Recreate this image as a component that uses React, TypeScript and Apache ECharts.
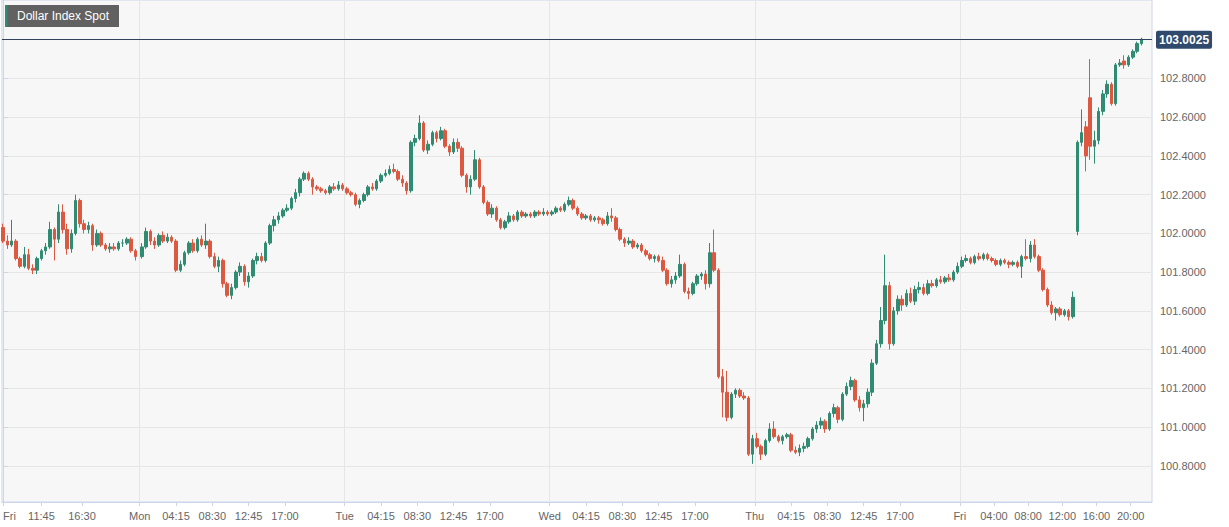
import React, { useEffect, useRef } from "react";
import * as echarts from "echarts";

// ---------- data ----------
const SERIES_NAME = "Dollar Index Spot";
const LAST_PRICE = 103.0025;

// position (in quarter-hours from Fri 07:15, weekend removed) of the first candle of each session
const candleStartQ = [0, 65, 161, 257, 353, 449];
// day boundaries (Mon, Tue, Wed, Thu, Fri 00:00)
const dayLineQ = [64, 160, 256, 352, 448];

const xTickQ = [0, 18, 37, 64, 81, 98, 115, 132, 160, 177, 194, 211, 228, 256, 273, 290, 307, 324, 352, 369, 386, 403, 420, 448, 464, 480, 496, 512, 528];
const xTickText = ["Fri", "11:45", "16:30", "Mon", "04:15", "08:30", "12:45", "17:00", "Tue", "04:15", "08:30", "12:45", "17:00", "Wed", "04:15", "08:30", "12:45", "17:00", "Thu", "04:15", "08:30", "12:45", "17:00", "Fri", "04:00", "08:00", "12:00", "16:00", "20:00"];
const yTicks = [100.8, 101.0, 101.2, 101.4, 101.6, 101.8, 102.0, 102.2, 102.4, 102.6, 102.8];

// 30-minute candles: [open, close, low, high]
const fri1 = [
  [102.03, 101.96, 101.95, 102.05], [101.96, 101.94, 101.92, 101.99], [101.94, 101.96, 101.93, 102.07], [101.96, 101.87, 101.86, 101.97],
  [101.87, 101.83, 101.82, 101.88], [101.83, 101.89, 101.82, 101.93], [101.89, 101.82, 101.81, 101.92], [101.82, 101.81, 101.79, 101.84],
  [101.81, 101.87, 101.79, 101.88], [101.87, 101.91, 101.86, 101.92], [101.91, 101.93, 101.89, 101.95], [101.93, 102.02, 101.92, 102.06],
  [102.02, 101.97, 101.86, 102.03], [101.97, 102.11, 101.95, 102.15], [102.11, 102.02, 102.0, 102.15], [102.02, 101.92, 101.89, 102.05],
  [101.92, 102.0, 101.9, 102.02], [102.0, 102.17, 101.99, 102.2], [102.17, 102.05, 102.03, 102.18], [102.05, 102.02, 102.0, 102.07],
  [102.02, 102.04, 102.0, 102.06], [102.04, 101.94, 101.91, 102.05], [101.94, 102.0, 101.93, 102.02], [102.0, 101.94, 101.93, 102.01],
  [101.94, 101.92, 101.91, 101.95], [101.92, 101.93, 101.9, 101.95], [101.93, 101.92, 101.91, 101.95], [101.92, 101.95, 101.91, 101.96],
  [101.95, 101.95, 101.93, 101.97], [101.95, 101.97, 101.94, 101.98], [101.97, 101.91, 101.9, 101.98], [101.91, 101.88, 101.86, 101.92],
];
const mon = [
  [101.88, 101.93, 101.87, 101.95], [101.93, 102.01, 101.92, 102.03], [102.01, 101.96, 101.94, 102.02], [101.96, 101.94, 101.92, 101.98],
  [101.94, 101.99, 101.93, 102.0], [101.99, 101.96, 101.95, 102.01], [101.96, 101.98, 101.95, 102.0], [101.98, 101.96, 101.95, 101.99],
  [101.96, 101.81, 101.8, 101.97], [101.81, 101.84, 101.8, 101.86], [101.84, 101.9, 101.83, 101.91], [101.9, 101.95, 101.89, 101.96],
  [101.95, 101.91, 101.9, 101.97], [101.91, 101.97, 101.9, 101.98], [101.97, 101.94, 101.93, 101.99], [101.94, 101.96, 101.92, 102.05],
  [101.96, 101.88, 101.87, 101.97], [101.88, 101.83, 101.82, 101.9], [101.83, 101.86, 101.8, 101.88], [101.86, 101.74, 101.72, 101.87],
  [101.74, 101.68, 101.67, 101.75], [101.68, 101.72, 101.66, 101.74], [101.72, 101.8, 101.71, 101.81], [101.8, 101.83, 101.78, 101.85],
  [101.83, 101.75, 101.73, 101.84], [101.75, 101.78, 101.72, 101.8], [101.78, 101.86, 101.77, 101.87], [101.86, 101.88, 101.84, 101.9],
  [101.88, 101.86, 101.85, 101.9], [101.86, 101.95, 101.85, 101.96], [101.95, 102.04, 101.94, 102.05], [102.04, 102.07, 102.01, 102.09],
  [102.07, 102.09, 102.05, 102.11], [102.09, 102.12, 102.08, 102.13], [102.12, 102.13, 102.11, 102.15], [102.13, 102.18, 102.12, 102.19],
  [102.18, 102.21, 102.16, 102.23], [102.21, 102.28, 102.19, 102.29], [102.28, 102.31, 102.27, 102.32], [102.31, 102.28, 102.27, 102.32],
  [102.28, 102.24, 102.2, 102.29], [102.24, 102.23, 102.22, 102.25], [102.23, 102.22, 102.21, 102.24], [102.22, 102.21, 102.2, 102.23],
  [102.21, 102.24, 102.2, 102.25], [102.24, 102.23, 102.22, 102.26], [102.23, 102.25, 102.22, 102.27], [102.25, 102.23, 102.22, 102.26],
];
const tue = [
  [102.23, 102.21, 102.2, 102.24], [102.21, 102.2, 102.19, 102.22], [102.2, 102.15, 102.14, 102.21], [102.15, 102.17, 102.13, 102.18],
  [102.17, 102.2, 102.16, 102.21], [102.2, 102.24, 102.19, 102.25], [102.24, 102.23, 102.22, 102.26], [102.23, 102.27, 102.22, 102.28],
  [102.27, 102.3, 102.26, 102.31], [102.3, 102.31, 102.29, 102.33], [102.31, 102.33, 102.3, 102.35], [102.33, 102.32, 102.31, 102.36],
  [102.32, 102.28, 102.27, 102.33], [102.28, 102.26, 102.24, 102.3], [102.26, 102.22, 102.2, 102.27], [102.22, 102.47, 102.21, 102.48],
  [102.47, 102.49, 102.45, 102.51], [102.49, 102.57, 102.48, 102.61], [102.57, 102.43, 102.42, 102.58], [102.43, 102.46, 102.41, 102.48],
  [102.46, 102.52, 102.45, 102.53], [102.52, 102.49, 102.47, 102.53], [102.49, 102.53, 102.48, 102.55], [102.53, 102.45, 102.44, 102.54],
  [102.45, 102.42, 102.4, 102.46], [102.42, 102.47, 102.41, 102.49], [102.47, 102.44, 102.42, 102.49], [102.44, 102.3, 102.29, 102.45],
  [102.3, 102.24, 102.21, 102.31], [102.24, 102.28, 102.2, 102.3], [102.28, 102.38, 102.27, 102.43], [102.38, 102.24, 102.23, 102.39],
  [102.24, 102.16, 102.15, 102.25], [102.16, 102.1, 102.09, 102.17], [102.1, 102.13, 102.08, 102.15], [102.13, 102.07, 102.06, 102.14],
  [102.07, 102.03, 102.02, 102.08], [102.03, 102.06, 102.02, 102.07], [102.06, 102.09, 102.05, 102.11], [102.09, 102.07, 102.06, 102.1],
  [102.07, 102.11, 102.06, 102.12], [102.11, 102.09, 102.08, 102.12], [102.09, 102.1, 102.08, 102.11], [102.1, 102.09, 102.08, 102.11],
  [102.09, 102.11, 102.08, 102.12], [102.11, 102.1, 102.09, 102.12], [102.1, 102.11, 102.09, 102.13], [102.11, 102.1, 102.09, 102.12],
];
const wed = [
  [102.1, 102.11, 102.09, 102.12], [102.11, 102.13, 102.1, 102.14], [102.13, 102.12, 102.11, 102.14], [102.12, 102.15, 102.11, 102.16],
  [102.15, 102.17, 102.14, 102.19], [102.17, 102.13, 102.12, 102.18], [102.13, 102.1, 102.09, 102.14], [102.1, 102.08, 102.07, 102.11],
  [102.08, 102.09, 102.07, 102.1], [102.09, 102.07, 102.06, 102.1], [102.07, 102.08, 102.06, 102.09], [102.08, 102.07, 102.05, 102.09],
  [102.07, 102.05, 102.04, 102.08], [102.05, 102.09, 102.04, 102.11], [102.09, 102.08, 102.06, 102.13], [102.08, 102.02, 102.01, 102.09],
  [102.02, 101.97, 101.96, 102.03], [101.97, 101.95, 101.93, 101.98], [101.95, 101.96, 101.94, 101.98], [101.96, 101.93, 101.92, 101.97],
  [101.93, 101.94, 101.92, 101.95], [101.94, 101.91, 101.9, 101.95], [101.91, 101.89, 101.88, 101.92], [101.89, 101.87, 101.86, 101.9],
  [101.87, 101.88, 101.85, 101.89], [101.88, 101.86, 101.85, 101.89], [101.86, 101.81, 101.8, 101.88], [101.81, 101.74, 101.73, 101.82],
  [101.74, 101.76, 101.72, 101.78], [101.76, 101.78, 101.74, 101.8], [101.78, 101.84, 101.77, 101.89], [101.84, 101.7, 101.69, 101.85],
  [101.7, 101.69, 101.66, 101.72], [101.69, 101.74, 101.68, 101.75], [101.74, 101.78, 101.73, 101.79], [101.78, 101.79, 101.76, 101.8],
  [101.79, 101.74, 101.71, 101.81], [101.74, 101.9, 101.72, 101.95], [101.9, 101.81, 101.8, 102.02], [101.81, 101.26, 101.25, 101.82],
  [101.26, 101.18, 101.05, 101.3], [101.18, 101.05, 101.03, 101.29], [101.05, 101.17, 101.04, 101.18], [101.17, 101.19, 101.15, 101.2],
  [101.19, 101.16, 101.15, 101.2], [101.16, 101.15, 101.14, 101.18], [101.15, 100.86, 100.85, 101.16], [100.86, 100.94, 100.81, 100.96],
];
const thu = [
  [100.94, 100.9, 100.89, 100.97], [100.9, 100.86, 100.83, 100.91], [100.86, 100.93, 100.85, 100.94], [100.93, 100.99, 100.92, 101.02],
  [100.99, 100.95, 100.94, 101.03], [100.95, 100.93, 100.92, 100.96], [100.93, 100.95, 100.91, 100.96], [100.95, 100.96, 100.94, 100.97],
  [100.96, 100.88, 100.87, 100.97], [100.88, 100.87, 100.86, 100.9], [100.87, 100.89, 100.85, 100.91], [100.89, 100.9, 100.87, 100.92],
  [100.9, 100.94, 100.89, 100.95], [100.94, 100.99, 100.93, 101.0], [100.99, 101.01, 100.97, 101.03], [101.01, 101.03, 100.99, 101.05],
  [101.03, 100.99, 100.97, 101.04], [100.99, 101.07, 100.98, 101.08], [101.07, 101.1, 101.05, 101.12], [101.1, 101.04, 101.02, 101.11],
  [101.04, 101.17, 101.03, 101.18], [101.17, 101.21, 101.16, 101.23], [101.21, 101.24, 101.19, 101.26], [101.24, 101.14, 101.13, 101.25],
  [101.14, 101.1, 101.08, 101.16], [101.1, 101.12, 101.03, 101.14], [101.12, 101.18, 101.1, 101.2], [101.18, 101.33, 101.16, 101.35],
  [101.33, 101.43, 101.32, 101.45], [101.43, 101.55, 101.41, 101.62], [101.55, 101.73, 101.53, 101.89], [101.73, 101.43, 101.4, 101.75],
  [101.43, 101.6, 101.42, 101.62], [101.6, 101.66, 101.58, 101.68], [101.66, 101.63, 101.6, 101.68], [101.63, 101.69, 101.62, 101.71],
  [101.69, 101.65, 101.64, 101.72], [101.65, 101.71, 101.63, 101.73], [101.71, 101.72, 101.69, 101.75], [101.72, 101.69, 101.68, 101.74],
  [101.69, 101.74, 101.68, 101.76], [101.74, 101.73, 101.72, 101.76], [101.73, 101.76, 101.72, 101.77], [101.76, 101.75, 101.74, 101.78],
  [101.75, 101.77, 101.74, 101.78], [101.77, 101.76, 101.75, 101.79], [101.76, 101.8, 101.75, 101.81], [101.8, 101.83, 101.79, 101.85],
];
const fri2 = [
  [101.83, 101.86, 101.82, 101.88], [101.86, 101.87, 101.85, 101.89], [101.87, 101.85, 101.84, 101.88], [101.85, 101.88, 101.84, 101.89],
  [101.88, 101.87, 101.86, 101.9], [101.87, 101.89, 101.86, 101.9], [101.89, 101.87, 101.86, 101.9], [101.87, 101.86, 101.85, 101.88],
  [101.86, 101.84, 101.83, 101.87], [101.84, 101.86, 101.83, 101.87], [101.86, 101.85, 101.84, 101.87], [101.85, 101.84, 101.82, 101.86],
  [101.84, 101.85, 101.83, 101.86], [101.85, 101.83, 101.82, 101.86], [101.83, 101.88, 101.77, 101.89], [101.88, 101.87, 101.86, 101.97],
  [101.87, 101.94, 101.85, 101.96], [101.94, 101.88, 101.87, 101.97], [101.88, 101.81, 101.8, 101.89], [101.81, 101.71, 101.7, 101.82],
  [101.71, 101.63, 101.62, 101.72], [101.63, 101.59, 101.58, 101.65], [101.59, 101.61, 101.55, 101.62], [101.61, 101.58, 101.57, 101.62],
  [101.58, 101.6, 101.57, 101.61], [101.6, 101.57, 101.55, 101.61], [101.57, 101.67, 101.56, 101.7], [102.01, 102.47, 101.99, 102.48],
  [102.47, 102.52, 102.45, 102.64], [102.55, 102.4, 102.32, 102.58], [102.7, 102.45, 102.38, 102.9], [102.45, 102.48, 102.36, 102.53],
  [102.48, 102.63, 102.46, 102.65], [102.63, 102.72, 102.61, 102.74], [102.72, 102.77, 102.7, 102.79], [102.77, 102.67, 102.66, 102.78],
  [102.67, 102.87, 102.66, 102.88], [102.87, 102.88, 102.86, 102.9], [102.89, 102.87, 102.85, 102.92], [102.87, 102.91, 102.86, 102.92],
  [102.91, 102.94, 102.9, 102.95], [102.94, 102.98, 102.93, 102.99], [102.98, 103.0025, 102.97, 103.01],
];
const days = [fri1, mon, tue, wed, thu, fri2];

const UP = "#2f8b72";
const DOWN = "#dc5840";
const FONT = '"Liberation Sans", Arial, Helvetica, sans-serif';

export default function App() {
  const ref = useRef<HTMLDivElement>(null);
  useEffect(() => {
    document.body.style.margin = "0";
    if (!ref.current) return;
    const chart = echarts.init(ref.current, null, { renderer: "svg" });
    const data: number[][] = [];
    days.forEach((arr, d) => {
      arr.forEach((c, i) => data.push([candleStartQ[d] + 2 * i, c[0], c[1], c[2], c[3]]));
    });
    const labelFor = (v: number) => {
      const idx = xTickQ.indexOf(Math.round(v));
      return idx >= 0 ? xTickText[idx] : "";
    };
    chart.setOption({
      animation: false,
      backgroundColor: "#ffffff",
      textStyle: { fontFamily: FONT },
      grid: {
        left: 1, right: 77, top: 0, bottom: 25, show: true,
        backgroundColor: "#f7f7f7", borderColor: "#ccd6eb", borderWidth: 1,
      },
      xAxis: [
        {
          type: "value", min: -0.5, max: 538, position: "bottom",
          axisLine: { show: true, lineStyle: { color: "#ccd6eb" } },
          axisTick: { show: true, customValues: xTickQ, length: 4, lineStyle: { color: "#ccd6eb" } },
          axisLabel: {
            customValues: xTickQ, formatter: labelFor, color: "#666666", fontSize: 11,
            fontFamily: FONT, margin: 8, alignMinLabel: "left",
          },
          splitLine: { show: false },
        },
        {
          type: "value", min: -0.5, max: 538, position: "bottom",
          axisLine: { show: false },
          axisTick: { show: false, customValues: dayLineQ },
          axisLabel: { show: false, customValues: dayLineQ },
          splitLine: { show: true, lineStyle: { color: "#e6e6e6", width: 1 } },
        },
      ],
      yAxis: {
        type: "value", position: "right", min: 100.613, max: 103.205, scale: true,
        axisLine: { show: true, lineStyle: { color: "#ccd6eb" } },
        axisTick: { show: true, customValues: yTicks, length: 5, lineStyle: { color: "#ccd6eb" } },
        axisLabel: {
          customValues: yTicks, formatter: (v: number) => v.toFixed(4),
          color: "#666666", fontSize: 11, fontFamily: FONT, margin: 8,
        },
        splitLine: { show: true, lineStyle: { color: "#e6e6e6", width: 1 } },
      },
      series: [
        {
          type: "candlestick",
          name: SERIES_NAME,
          xAxisIndex: 0,
          data,
          encode: { x: 0, y: [1, 2, 3, 4] },
          barWidth: 3,
          itemStyle: { color: UP, color0: DOWN, borderColor: UP, borderColor0: DOWN, borderWidth: 1 },
          markLine: {
            silent: true,
            symbol: ["none", "none"],
            data: [{ yAxis: LAST_PRICE }],
            lineStyle: { color: "#34435d", width: 1, type: "solid" },
            label: {
              show: true, position: "end", formatter: LAST_PRICE.toFixed(4),
              color: "#ffffff", backgroundColor: "#2f4a6c", fontWeight: "bold",
              fontSize: 12, fontFamily: FONT, padding: [3, 3, 3, 3], borderRadius: 2, distance: 4,
            },
          },
        },
      ],
      graphic: [
        { type: "rect", z: 100, shape: { x: 5, y: 5, width: 114, height: 22 }, style: { fill: "#616161" } },
        { type: "rect", z: 101, shape: { x: 5, y: 5, width: 2.5, height: 22 }, style: { fill: UP } },
        {
          type: "text", z: 101, x: 17, y: 16,
          style: { text: SERIES_NAME, fill: "#ffffff", font: `12px ${FONT}`, verticalAlign: "middle", align: "left" },
        },
      ],
    });
    return () => chart.dispose();
  }, []);
  return <div ref={ref} style={{ width: 1229, height: 527 }} />;
}
